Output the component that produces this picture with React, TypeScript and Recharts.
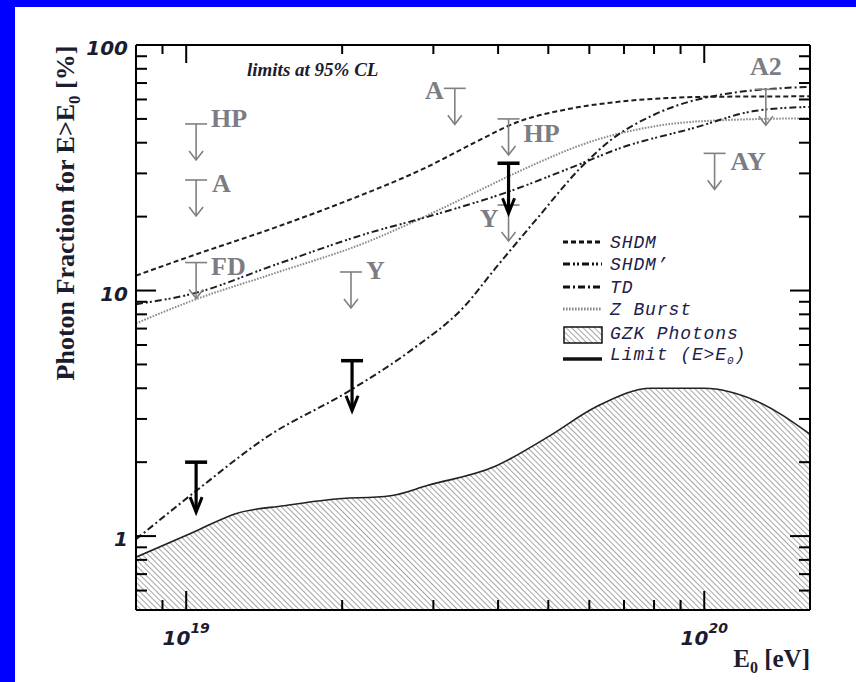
import React from 'react';
import { ComposedChart, Line, Area, Scatter, XAxis, YAxis } from 'recharts';

// ---------- data ----------
const gzkEnergy = [8e18, 1.035e19, 1.255e19, 1.545e19, 1.9e19, 2.48e19, 2.93e19, 3.94e19, 5e19, 6.2e19, 7.9e19, 1e20, 1.26e20, 1.6e20];
const gzkFraction = [0.82, 1.04, 1.24, 1.33, 1.41, 1.46, 1.61, 1.92, 2.54, 3.37, 4.0, 4.0, 3.55, 2.6];

const shdmEnergy = [8e18, 1e19, 1.5e19, 2e19, 2.93e19, 3.6e19, 4.38e19, 5.5e19, 6.83e19, 8.5e19, 1e20, 1.6e20];
const shdmFraction = [11.5, 13.6, 18.2, 22.8, 32, 40, 48.7, 55, 58.7, 60.8, 61.5, 61.8];

const shdmPrimeEnergy = [8e18, 1.035e19, 1.48e19, 2.24e19, 2.93e19, 4.24e19, 5.5e19, 7e19, 9.4e19, 1.26e20, 1.6e20];
const shdmPrimeFraction = [8.8, 9.74, 12.7, 17.1, 20, 25.5, 31.5, 38.5, 45.5, 54, 56];

const tdEnergy = [8e18, 1.05e19, 1.434e19, 2.05e19, 2.72e19, 3.44e19, 3.95e19, 4.79e19, 5.72e19, 6.6e19, 8e19, 1.07e20, 1.6e20];
const tdFraction = [0.97, 1.54, 2.54, 3.87, 5.72, 8.6, 12.3, 20, 31, 41, 52, 62.6, 67.6];

const zBurstEnergy = [8e18, 1.035e19, 1.48e19, 2.24e19, 2.93e19, 3.6e19, 4.38e19, 6.17e19, 8.3e19, 1.11e20, 1.6e20];
const zBurstFraction = [7.35, 9.15, 11.75, 15.8, 20.3, 25, 30.5, 41, 47.2, 49.5, 50.3];

const otherLimitEnergy = [1.045e19, 1.045e19, 1.045e19, 2.08e19, 3.3e19, 4.19e19, 4.19e19, 1.047e20, 1.315e20];
const otherLimitValue = [47.7, 28.2, 13, 11.9, 66.6, 50, 22.3, 36.2, 66];
const otherLimitLabel = ['HP', 'A', 'FD', 'Y', 'A', 'HP', 'Y', 'AY', 'A2'];

const augerLimitEnergy = [1.045e19, 2.09e19, 4.19e19];
const augerLimitValue = [2.0, 5.18, 33];

const yTicks = [0.5, 0.6, 0.7, 0.8, 0.9, 1, 2, 3, 4, 5, 6, 7, 8, 9, 10, 20, 30, 40, 50, 60, 70, 80, 90, 100];
const yMajorTicks = [1, 10, 100];
const yMajorLabels = ['1', '10', '100'];

const xTicks = [8e18, 9e18, 1e19, 2e19, 3e19, 4e19, 5e19, 6e19, 7e19, 8e19, 9e19, 1e20];
const xMajorTicks = [1e19, 1e20];
const xMajorExponents = ['19', '20'];

const legendNames = ['SHDM', 'SHDM\u2019', 'TD', 'Z Burst', 'GZK Photons', 'Limit (E>E'];

// ---------- layout / style ----------
const W = 856;
const H = 682;
const PLOT = { left: 136, top: 45, right: 810, bottom: 610 };
const X_DOMAIN = [8e18, 1.6e20];
const Y_DOMAIN = [0.5, 100];
const INK = '#1c1c30';
const GREY = '#808080';

const lineStyles: Record<string, { stroke: string; dash: string; width: number }> = {
  shdm: { stroke: '#1e1e1e', dash: '5 3', width: 2 },
  shdmp: { stroke: '#1e1e1e', dash: '7 3 2 2 2 3', width: 2 },
  td: { stroke: '#1e1e1e', dash: '7 3 2 3', width: 2 },
  zb: { stroke: '#8a8a8a', dash: '1.6 1.4', width: 2 },
};

// label placement for the grey limits (layout, not data)
const otherLabelPlacement = [
  { dx: 15, dy: 3, anchor: 'start' },
  { dx: 16, dy: 12, anchor: 'start' },
  { dx: 15, dy: 12, anchor: 'start' },
  { dx: 15, dy: 7, anchor: 'start' },
  { dx: -11, dy: 11, anchor: 'end' },
  { dx: 15, dy: 23, anchor: 'start' },
  { dx: -10, dy: 22, anchor: 'end' },
  { dx: 16, dy: 17, anchor: 'start' },
  { dx: 0, dy: -14, anchor: 'middle' },
];

// ---------- build table ----------
const seriesList: [string, number[], number[]][] = [
  ['gzk', gzkEnergy, gzkFraction],
  ['shdm', shdmEnergy, shdmFraction],
  ['shdmp', shdmPrimeEnergy, shdmPrimeFraction],
  ['td', tdEnergy, tdFraction],
  ['zb', zBurstEnergy, zBurstFraction],
];
const table = (() => {
  const map = new Map<number, any>();
  seriesList.forEach(([key, es, fs]) => {
    es.forEach((e, i) => {
      const row = map.get(e) ?? { e };
      row[key] = fs[i];
      map.set(e, row);
    });
  });
  return Array.from(map.values()).sort((a, b) => a.e - b.e);
})();

const otherLimits = otherLimitEnergy.map((e, i) => ({ e, f: otherLimitValue[i], label: otherLimitLabel[i], idx: i }));
const augerLimits = augerLimitEnergy.map((e, i) => ({ e, f: augerLimitValue[i] }));

// ---------- ticks ----------
const tickFont = { fontFamily: '"DejaVu Sans", Verdana, sans-serif', fontWeight: 700, fontStyle: 'italic' as const, fill: INK };

const YTickLeft = (props: any) => {
  const { x, y, payload } = props;
  const idx = yMajorTicks.indexOf(payload.value);
  const major = idx >= 0;
  return (
    <g>
      <line x1={x} x2={x + (major ? 20 : 11)} y1={y} y2={y} stroke="#000" strokeWidth={2} />
      {major && (
        <text x={x - 8} y={y + 10} textAnchor="end" fontSize={20} {...tickFont}>
          {yMajorLabels[idx]}
        </text>
      )}
    </g>
  );
};

const YTickRight = (props: any) => {
  const { x, y, payload } = props;
  const major = yMajorTicks.indexOf(payload.value) >= 0;
  return <line x1={x} x2={x - (major ? 20 : 11)} y1={y} y2={y} stroke="#000" strokeWidth={2} />;
};

const XTickBottom = (props: any) => {
  const { x, y, payload } = props;
  const idx = xMajorTicks.indexOf(payload.value);
  const major = idx >= 0;
  return (
    <g>
      <line x1={x} x2={x} y1={y} y2={y - (major ? 19 : 10)} stroke="#000" strokeWidth={2} />
      {major && (
        <text x={x} y={y + 35} textAnchor="middle" fontSize={20} {...tickFont}>
          10
          <tspan dy={-12} fontSize={14}>
            {xMajorExponents[idx]}
          </tspan>
        </text>
      )}
    </g>
  );
};

const XTickTop = (props: any) => {
  const { x, y, payload } = props;
  const major = xMajorTicks.indexOf(payload.value) >= 0;
  return <line x1={x} x2={x} y1={y} y2={y + (major ? 18 : 9)} stroke="#000" strokeWidth={2} />;
};

// ---------- limit markers ----------
const OtherLimitShape = (props: any) => {
  const { cx, cy, payload } = props;
  const p = otherLabelPlacement[payload.idx];
  return (
    <g>
      <line x1={cx - 11} x2={cx + 11} y1={cy} y2={cy} stroke={GREY} strokeWidth={1.6} />
      <line x1={cx} x2={cx} y1={cy} y2={cy + 36} stroke={GREY} strokeWidth={1.6} />
      <polyline points={`${cx - 7},${cy + 27} ${cx},${cy + 36} ${cx + 7},${cy + 27}`} fill="none" stroke={GREY} strokeWidth={1.6} />
      <text
        x={cx + p.dx}
        y={cy + p.dy}
        textAnchor={p.anchor as any}
        fontFamily='"Liberation Serif", "Times New Roman", serif'
        fontWeight={700}
        fontSize={26}
        fill="#7c7c84"
      >
        {payload.label}
      </text>
    </g>
  );
};

const AugerLimitShape = (props: any) => {
  const { cx, cy } = props;
  return (
    <g>
      <line x1={cx - 11} x2={cx + 11} y1={cy} y2={cy} stroke="#000" strokeWidth={3.5} />
      <line x1={cx} x2={cx} y1={cy} y2={cy + 49} stroke="#000" strokeWidth={3.2} />
      <polyline points={`${cx - 6},${cy + 35} ${cx},${cy + 50} ${cx + 6},${cy + 35}`} fill="none" stroke="#000" strokeWidth={3} />
    </g>
  );
};

// ---------- legend ----------
const legendRows = [
  { key: 'shdm', y: 242 },
  { key: 'shdmp', y: 264 },
  { key: 'td', y: 287 },
  { key: 'zb', y: 309 },
];

const Overlay = () => {
  const monoFont = {
    fontFamily: '"Liberation Mono", "Courier New", monospace',
    fontStyle: 'italic' as const,
    fontSize: 18,
    letterSpacing: 0.9,
    fill: '#20204a',
  };
  return (
    <svg width={W} height={H} style={{ position: 'absolute', left: 0, top: 0, pointerEvents: 'none' }}>
      <defs>
        <pattern id="hatch" width="4" height="4" patternUnits="userSpaceOnUse" patternTransform="rotate(-45)">
          <line x1="0" y1="0" x2="0" y2="4" stroke="#5a5a5a" strokeWidth="1.1" />
        </pattern>
      </defs>
      {/* y title */}
      <text
        transform="translate(74,213) rotate(-90)"
        textAnchor="middle"
        fontFamily='"Liberation Serif", "Times New Roman", serif'
        fontWeight={700}
        fontSize={26}
        fill={INK}
      >
        Photon Fraction for E&gt;E
        <tspan dy={6} fontSize={17}>0</tspan>
        <tspan dy={-6}> [%]</tspan>
      </text>
      {/* x title */}
      <text x={810} y={667} textAnchor="end" fontFamily='"Liberation Serif", "Times New Roman", serif' fontWeight={700} fontSize={25} fill={INK}>
        E<tspan dy={6} fontSize={16}>0</tspan>
        <tspan dy={-6}> [eV]</tspan>
      </text>
      {/* annotation */}
      <text x={247} y={76} fontFamily='"Liberation Serif", "Times New Roman", serif' fontWeight={700} fontStyle="italic" fontSize={19} fill={INK}>
        limits at 95% CL
      </text>
      {/* legend */}
      {legendRows.map((r, i) => {
        const s = lineStyles[r.key];
        return (
          <g key={r.key}>
            <line x1={563} x2={602} y1={r.y} y2={r.y} stroke={r.key === 'zb' ? s.stroke : '#111'} strokeWidth={3} strokeDasharray={s.dash} />
            <text x={610} y={r.y + 6} {...monoFont}>
              {legendNames[i]}
            </text>
          </g>
        );
      })}
      <rect x={564} y={327} width={38} height={16} fill="url(#hatch)" stroke="#111" strokeWidth={1.5} />
      <text x={610} y={339} {...monoFont}>
        {legendNames[4]}
      </text>
      <line x1={563} x2={602} y1={359} y2={359} stroke="#111" strokeWidth={3.5} />
      <text x={610} y={360} {...monoFont}>
        {legendNames[5]}
        <tspan dy={4} fontSize={11}>0</tspan>
        <tspan dy={-4}>)</tspan>
      </text>
    </svg>
  );
};

export default function App() {
  return (
    <div style={{ position: 'absolute', left: 0, top: 0, width: W, height: H, background: '#0000ff', overflow: 'hidden' }}>
      <div style={{ position: 'absolute', left: 15, top: 7, width: W - 15, height: H - 7, background: '#ffffff' }} />
      <div style={{ position: 'absolute', left: 0, top: 0 }}>
        <Overlay />
        <ComposedChart
          width={W}
          height={H}
          data={table}
          margin={{ top: PLOT.top - 1, left: PLOT.left - 1, right: W - PLOT.right - 1, bottom: H - PLOT.bottom - 1 }}
          style={{ position: 'absolute', left: 0, top: 0 }}
        >
          <XAxis
            xAxisId="b"
            dataKey="e"
            type="number"
            scale="log"
            domain={X_DOMAIN}
            allowDataOverflow
            ticks={xTicks}
            interval={0}
            height={1}
            tickSize={0}
            tickMargin={0}
            tickLine={false}
            axisLine={{ stroke: '#000', strokeWidth: 2 }}
            tick={<XTickBottom />}
          />
          <XAxis
            xAxisId="t"
            orientation="top"
            dataKey="e"
            type="number"
            scale="log"
            domain={X_DOMAIN}
            allowDataOverflow
            ticks={xTicks}
            interval={0}
            height={1}
            tickSize={0}
            tickMargin={0}
            tickLine={false}
            axisLine={{ stroke: '#000', strokeWidth: 2 }}
            tick={<XTickTop />}
          />
          <YAxis
            yAxisId="l"
            type="number"
            scale="log"
            domain={Y_DOMAIN}
            allowDataOverflow
            ticks={yTicks}
            interval={0}
            width={1}
            tickSize={0}
            tickMargin={0}
            tickLine={false}
            axisLine={{ stroke: '#000', strokeWidth: 2 }}
            tick={<YTickLeft />}
          />
          <YAxis
            yAxisId="r"
            orientation="right"
            type="number"
            scale="log"
            domain={Y_DOMAIN}
            allowDataOverflow
            ticks={yTicks}
            interval={0}
            width={1}
            tickSize={0}
            tickMargin={0}
            tickLine={false}
            axisLine={{ stroke: '#000', strokeWidth: 2 }}
            tick={<YTickRight />}
          />
          <Area
            xAxisId="b"
            yAxisId="l"
            dataKey="gzk"
            type="monotone"
            connectNulls
            baseValue={0.5}
            stroke="#222"
            strokeWidth={1.6}
            fill="url(#hatch)"
            fillOpacity={1}
            isAnimationActive={false}
            dot={false}
            activeDot={false}
          />
          {(['zb', 'shdm', 'shdmp', 'td'] as const).map((k) => (
            <Line
              key={k}
              xAxisId="b"
              yAxisId="l"
              dataKey={k}
              type="monotone"
              connectNulls
              stroke={lineStyles[k].stroke}
              strokeWidth={lineStyles[k].width}
              strokeDasharray={lineStyles[k].dash}
              dot={false}
              activeDot={false}
              isAnimationActive={false}
            />
          ))}
          <Scatter xAxisId="b" yAxisId="l" data={otherLimits} dataKey="f" shape={<OtherLimitShape />} isAnimationActive={false} />
          <Scatter xAxisId="b" yAxisId="l" data={augerLimits} dataKey="f" shape={<AugerLimitShape />} isAnimationActive={false} />
        </ComposedChart>
      </div>
    </div>
  );
}
